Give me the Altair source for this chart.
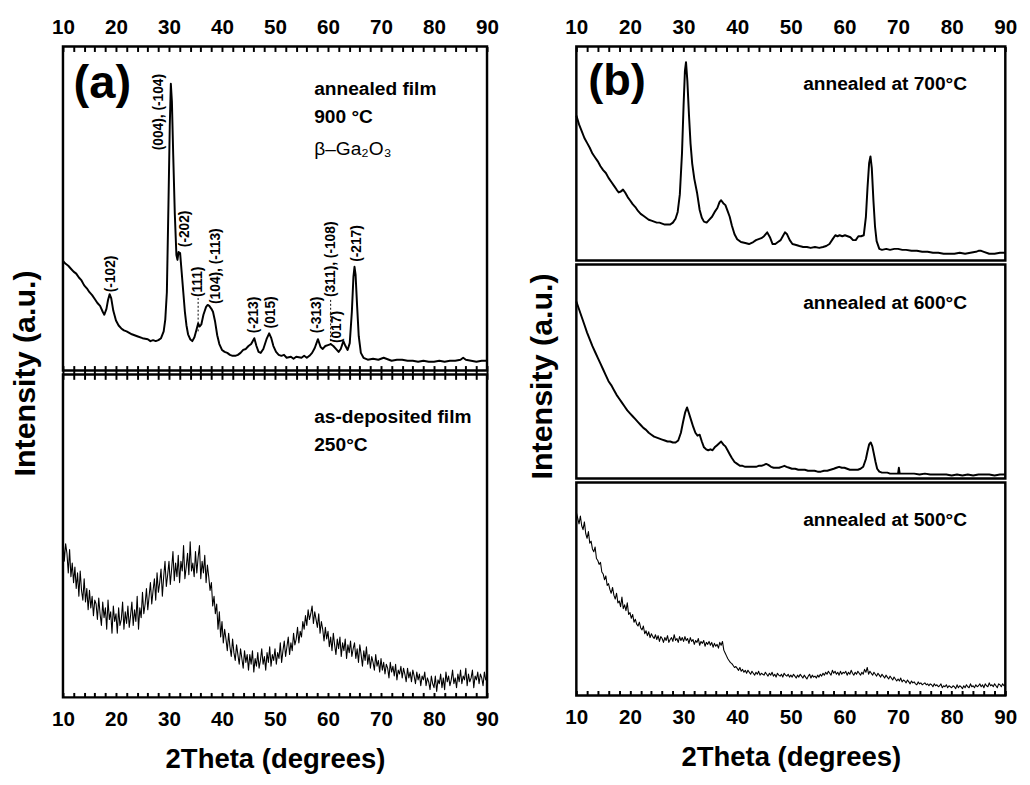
import altair as alt
import pandas as pd

FONT = "Liberation Sans"

# ---------------- tick positions ----------------
MAJOR_TICKS = [10, 20, 30, 40, 50, 60, 70, 80, 90]
ALL_TICKS = [10, 12, 14, 16, 18, 20, 22, 24, 26, 28, 30, 32, 34, 36, 38, 40, 42, 44, 46, 48,
             50, 52, 54, 56, 58, 60, 62, 64, 66, 68, 70, 72, 74, 76, 78, 80, 82, 84, 86, 88, 90]

# ---------------- (a) annealed film 900 C ----------------
A_TOP_X = [10.0, 10.5, 11.0, 11.5, 12.0, 12.5, 13.0, 13.5, 14.0, 14.5, 15.0, 15.5, 16.0, 16.5,
           17.0, 17.5, 17.8, 18.2, 18.5, 18.8, 19.1, 19.5, 20.0, 20.5, 21.0, 21.5, 22.0, 23.0,
           24.0, 25.0, 26.0, 26.5, 27.0, 27.5, 28.0, 28.5, 29.0, 29.3, 29.6, 29.9, 30.15, 30.35,
           30.55, 30.8, 31.1, 31.4, 31.6, 31.8, 32.1, 32.4, 32.7, 33.0, 33.3, 33.6, 34.0, 34.4,
           34.8, 35.2, 35.5, 35.8, 36.1, 36.5, 37.0, 37.3, 37.6, 38.0, 38.3, 38.7, 39.1, 39.5,
           40.0, 40.5, 41.0, 41.5, 42.0, 42.5, 43.0, 43.5, 44.0, 44.5, 45.0, 45.5, 46.1, 46.5,
           46.9, 47.3, 47.8, 48.4, 48.9, 49.3, 49.7, 50.2, 50.7, 51.2, 51.7, 52.2, 53.0, 53.5,
           54.0, 55.0, 55.5, 56.0, 56.5, 57.0, 57.5, 58.1, 58.6, 59.0, 59.5, 60.0, 60.5, 61.0,
           61.5, 62.0, 62.4, 62.9, 63.3, 63.7, 64.1, 64.5, 64.8, 65.0, 65.2, 65.5, 65.8, 66.2,
           66.7, 67.5, 68.5, 69.5, 70.5, 71.0, 72.0, 73.0, 74.0, 75.0, 76.0, 77.0, 78.0, 79.0,
           80.0, 81.0, 82.0, 83.0, 84.0, 85.0, 85.5, 86.0, 87.0, 88.0, 89.0, 90.0]
A_TOP_Y = [112, 109, 107, 104, 101, 99, 95, 92, 87, 84, 80, 77, 73, 69,
           66, 60, 57, 63, 72, 78, 74, 61, 51, 46, 43, 41, 40, 37,
           35, 33, 32, 30, 31, 30, 31, 33, 40, 52, 80, 170, 250, 293,
           275, 220, 160, 118, 113, 121, 120, 100, 80, 60, 46, 37, 32, 30,
           34, 42, 48, 45, 47, 57, 65, 67, 66, 63, 60, 50, 36, 27,
           21, 19, 18, 16, 15, 15, 16, 18, 21, 22, 25, 27, 33, 25,
           19, 18, 22, 32, 38, 33, 25, 19, 16, 15, 16, 13, 14, 12,
           14, 13, 15, 13, 15, 18, 23, 32, 24, 22, 25, 26, 27, 25,
           22, 19, 22, 30, 25, 21, 28, 60, 96, 106, 98, 65, 35, 18,
           13, 11, 12, 11, 13, 12, 10, 11, 11, 10, 10, 9, 10, 9,
           9, 10, 9, 10, 10, 11, 13, 11, 10, 9, 10, 10]

# peak labels of panel (a)
PEAK_TEXT = ["(-102)", "(004), (-104)", "(-202)", "(111)", "(104), (-113)", "(-213)",
             "(015)", "(-313)", "(311), (-108)", "(017)", "(-217)"]
PEAK_X = [19.0, 28.1, 33.0, 35.5, 38.9, 46.1, 49.2, 58.0, 60.5, 61.7, 65.4]
PEAK_Y = [80, 225, 126, 75, 68, 38, 43, 38, 75, 28, 111]
DASH_X = [35.5, 60.5]
DASH_Y0 = [40, 26]
DASH_Y1 = [74, 73]

A_TOP_NOTE_TEXT = ["annealed film", "900 °C"]
A_TOP_NOTE_X = [57.4, 57.4]
A_TOP_NOTE_Y = [281, 253]
A_PHASE_TEXT = ["β–Ga₂O₃"]
A_PHASE_X = [57.4]
A_PHASE_Y = [220]
A_LETTER = ["(a)"]
A_LETTER_X = [12.0]
A_LETTER_Y = [278]

# ---------------- (a) as-deposited film 250 C (0.25 degree steps) ----------------
A_BOT_Y = [166, 140, 158, 148, 128, 152, 124, 138, 118, 134, 112, 128, 104, 130, 110, 100, 122, 98, 112, 90,
           110, 92, 104, 84, 100, 96, 80, 102, 86, 74, 98, 82, 92, 70, 100, 80, 88, 66, 94, 78,
           86, 66, 92, 74, 80, 98, 70, 88, 76, 94, 72, 84, 98, 74, 90, 78, 104, 70, 92, 82,
           108, 86, 96, 112, 90, 104, 118, 96, 110, 122, 100, 128, 108, 118, 132, 104, 124, 140, 114, 126,
           140, 116, 132, 150, 120, 138, 124, 146, 118, 140, 130, 156, 122, 134, 148, 126, 160, 130, 138, 124,
           150, 128, 144, 156, 122, 140, 128, 146, 118, 136, 124, 110, 118, 94, 104, 86, 96, 70, 88, 62,
           78, 56, 70, 60, 48, 66, 52, 42, 60, 46, 38, 54, 44, 34, 50, 40, 30, 48, 36, 44,
           28, 44, 34, 48, 26, 40, 32, 46, 30, 38, 50, 34, 42, 28, 46, 36, 52, 32, 44, 38,
           50, 34, 46, 40, 56, 36, 48, 58, 42, 52, 62, 44, 56, 48, 66, 54, 60, 72, 56, 68,
           62, 78, 70, 84, 74, 90, 80, 86, 94, 76, 88, 80, 72, 86, 66, 78, 70, 58, 72, 60,
           68, 52, 62, 48, 66, 54, 44, 60, 50, 62, 42, 56, 48, 60, 40, 54, 46, 58, 42, 50,
           56, 40, 50, 36, 54, 44, 32, 48, 38, 52, 34, 44, 30, 42, 36, 28, 44, 32, 38, 26,
           40, 28, 36, 24, 34, 30, 20, 36, 26, 32, 22, 34, 18, 28, 24, 32, 20, 30, 24, 16,
           30, 20, 26, 16, 28, 22, 14, 26, 18, 24, 12, 22, 18, 26, 12, 20, 16, 8, 22, 14,
           10, 22, 6, 18, 14, 24, 10, 20, 8, 26, 16, 22, 12, 18, 28, 14, 20, 10, 24, 16,
           28, 14, 22, 18, 30, 12, 24, 16, 20, 28, 10, 22, 18, 26, 14, 24, 20, 12, 26, 18,
           22]
A_BOT_NOTE_TEXT = ["as-deposited film", "250°C"]
A_BOT_NOTE_X = [57.4, 57.4]
A_BOT_NOTE_Y = [282, 253]

# ---------------- (b) 700 C ----------------
B700_X = [10.0, 10.5, 11.0, 11.5, 12.0, 12.5, 13.0, 13.5, 14.0, 14.5, 15.0, 15.5, 16.0, 16.5,
          17.0, 17.5, 17.9, 18.3, 18.7, 19.1, 19.6, 20.0, 20.5, 21.0, 21.5, 22.0, 22.5, 23.0,
          23.5, 24.0, 24.5, 25.0, 25.5, 26.0, 26.5, 27.0, 27.5, 28.0, 28.5, 28.9, 29.3, 29.7,
          30.0, 30.25, 30.45, 30.7, 31.0, 31.3, 31.6, 32.0, 32.5, 33.0, 33.4, 33.8, 34.3, 34.8,
          35.3, 35.8, 36.3, 36.7, 37.0, 37.4, 37.8, 38.2, 38.6, 39.0, 39.5, 40.0, 40.7, 41.5,
          42.2, 43.0, 43.5, 44.0, 44.5, 45.0, 45.6, 46.1, 46.6, 47.1, 47.6, 48.1, 48.5, 48.9,
          49.3, 49.8, 50.3, 51.0, 51.6, 52.3, 53.0, 53.7, 54.5, 55.3, 56.0, 56.6, 57.2, 57.8,
          58.3, 58.7, 59.1, 59.6, 60.1, 60.6, 61.1, 61.6, 62.1, 62.6, 63.1, 63.6, 64.0, 64.3,
          64.6, 64.85, 65.1, 65.4, 65.7, 66.0, 66.5, 67.0, 67.8, 68.5, 69.3, 70.0, 70.8, 71.5,
          72.5, 73.5, 74.5, 75.5, 76.5, 77.5, 78.5, 79.5, 80.5, 81.5, 82.5, 83.5, 84.5, 85.0,
          85.5, 86.0, 87.0, 88.0, 89.0, 90.0]
B700_Y = [149, 140, 133, 126, 121, 116, 110, 106, 102, 97, 93, 90, 85, 81,
          77, 73, 70, 71, 73, 70, 65, 62, 58, 55, 51, 48, 46, 44,
          42, 41, 40, 39, 39, 38, 37, 37, 37, 39, 43, 50, 68, 110,
          160, 195, 204, 185, 150, 120, 100, 84, 70, 52, 44, 40, 39, 42,
          45, 50, 54, 60, 62, 59, 57, 51, 45, 36, 27, 22, 19, 18,
          17, 19, 21, 22, 23, 25, 29, 24, 17, 17, 19, 21, 25, 29,
          27, 21, 17, 16, 15, 14, 14, 13, 14, 13, 14, 15, 17, 22,
          26, 25, 26, 25, 26, 25, 24, 21, 21, 25, 25, 26, 45, 75,
          100, 107, 95, 62, 35, 20, 12, 11, 12, 11, 12, 12, 11, 11,
          10, 10, 9, 9, 8, 8, 7, 7, 7, 8, 7, 8, 9, 10,
          10, 9, 7, 7, 8, 8]

# ---------------- (b) 600 C ----------------
B600_X = [10.0, 10.5, 11.0, 11.5, 12.0, 12.5, 13.0, 13.5, 14.0, 14.5, 15.0, 15.5, 16.0, 16.5,
          17.0, 17.5, 18.0, 18.5, 19.0, 19.5, 20.0, 20.5, 21.0, 21.5, 22.0, 22.5, 23.0, 23.5,
          24.0, 24.5, 25.0, 25.5, 26.0, 26.5, 27.0, 27.5, 28.0, 28.5, 29.0, 29.5, 29.9, 30.3,
          30.65, 31.0, 31.4, 31.8, 32.2, 32.6, 33.0, 33.4, 33.8, 34.2, 34.6, 35.0, 35.4, 35.8,
          36.2, 36.6, 37.0, 37.4, 37.8, 38.2, 38.6, 39.0, 39.5, 40.0, 40.5, 41.0, 41.5, 42.0,
          42.5, 43.0, 43.5, 44.0, 44.5, 45.0, 45.4, 45.8, 46.3, 46.8, 47.3, 47.8, 48.3, 48.8,
          49.2, 49.7, 50.2, 50.8, 51.4, 52.0, 52.6, 53.2, 53.8, 54.4, 55.0, 55.6, 56.2, 56.8,
          57.4, 58.0, 58.5, 59.0, 59.5, 60.0, 60.5, 61.0, 61.5, 62.0, 62.5, 63.0, 63.5, 64.0,
          64.3, 64.6, 64.9, 65.2, 65.5, 65.8, 66.1, 66.5, 67.0, 67.5, 68.0, 68.5, 69.0, 69.5,
          70.0, 70.15, 70.3, 71.0, 72.0, 73.0, 74.0, 75.0, 76.0, 77.0, 78.0, 79.0, 80.0, 81.0,
          82.0, 83.0, 84.0, 85.0, 86.0, 87.0, 88.0, 89.0, 90.0]
B600_Y = [182, 174, 166, 158, 150, 143, 136, 130, 124, 118, 112, 106, 100, 96,
          91, 86, 82, 78, 74, 70, 67, 64, 61, 58, 55, 52, 50, 47,
          45, 43, 42, 41, 40, 39, 38, 38, 37, 37, 39, 47, 58, 68,
          73, 67, 60, 53, 47, 44, 45, 38, 32, 30, 29, 30, 29, 32,
          34, 36, 38, 35, 33, 29, 25, 21, 17, 15, 13, 13, 12, 12,
          12, 12, 12, 13, 13, 14, 15, 14, 12, 11, 11, 11, 12, 13,
          12, 11, 10, 10, 9, 9, 9, 8, 8, 8, 7, 7, 8, 8,
          9, 10, 11, 12, 11, 11, 10, 9, 9, 9, 9, 10, 12, 20,
          28, 35, 37, 33, 25, 17, 10, 7, 6, 6, 6, 5, 5, 5,
          5, 11, 5, 5, 5, 5, 4, 5, 4, 4, 4, 4, 3, 4,
          3, 4, 3, 4, 4, 4, 3, 4, 4]

# ---------------- (b) 500 C (0.25 degree steps) ----------------
B500_Y = [190, 184, 178, 186, 176, 172, 180, 168, 163, 170, 158, 160, 152, 149, 154, 142, 140, 136, 138, 128,
          126, 120, 124, 114, 116, 110, 106, 112, 104, 100, 106, 96, 98, 92, 102, 90, 94, 88, 96, 84,
          86, 80, 84, 76, 79, 74, 72, 76, 70, 68, 72, 64, 67, 62, 66, 60, 64, 61, 59, 63,
          58, 62, 56, 61, 59, 55, 60, 57, 62, 55, 58, 60, 56, 63, 57, 59, 55, 61, 57, 60,
          56, 61, 57, 59, 54, 60, 56, 58, 53, 57, 55, 59, 52, 56, 54, 57, 51, 55, 53, 56,
          52, 55, 50, 54, 51, 53, 49, 55, 52, 56, 47, 44, 41, 38, 36, 34, 33, 31, 29, 30,
          28, 26, 29, 25, 27, 24, 26, 23, 26, 24, 22, 25, 23, 21, 24, 22, 25, 21, 23, 22,
          21, 24, 22, 20, 23, 21, 24, 20, 22, 19, 23, 21, 20, 22, 19, 23, 21, 20, 22, 19,
          21, 19, 22, 20, 18, 21, 19, 22, 20, 18, 21, 19, 17, 20, 22, 18, 21, 19, 20, 18,
          21, 19, 22, 20, 23, 21, 24, 22, 25, 23, 21, 26, 23, 25, 22, 24, 21, 25, 22, 24,
          23, 25, 21, 24, 22, 26, 23, 21, 24, 22, 25, 23, 21, 24, 22, 27, 24, 29, 22, 25,
          23, 21, 24, 22, 20, 23, 21, 19, 22, 20, 18, 21, 19, 17, 20, 18, 16, 19, 17, 15,
          17, 15, 18, 14, 16, 15, 13, 16, 14, 12, 15, 13, 14, 12, 11, 14, 12, 13, 11, 12,
          13, 11, 12, 10, 12, 11, 9, 12, 10, 11, 9, 10, 12, 8, 10, 9, 11, 8, 10, 9,
          8, 10, 9, 7, 11, 8, 10, 9, 7, 10, 8, 11, 9, 8, 12, 9, 10, 8, 11, 9,
          10, 12, 9, 11, 8, 12, 10, 9, 13, 10, 11, 9, 12, 10, 8, 12, 11, 9, 12, 10,
          11]

GRID_QUARTER_DEG = [10 + 0.25 * i for i in range(321)]

B_NOTE_TEXT = ["annealed at 700°C", "annealed at 600°C", "annealed at 500°C"]
B_NOTE_X = [52.3, 52.3, 52.3]
B_NOTE_Y = [175, 174, 176]
B_LETTER = ["(b)"]
B_LETTER_X = [12.2]
B_LETTER_Y = [170]

Y_TITLE = "Intensity (a.u.)"

# ---------------- chart construction ----------------
XS = alt.Scale(domain=[10, 90], nice=False, zero=False)
FRAME = alt.ViewBackground(stroke="black", strokeWidth=2.5)
TICK_IN = 5          # tick length inside the frame
DIVIDER_SPAN = 14    # ticks that cross the double divider line


def tick_axis(orient, labeled=False, titled=False, size=TICK_IN):
    kw = dict(orient=orient, values=ALL_TICKS, ticks=True, tickSize=size, tickWidth=2,
              tickColor="black", domain=False, grid=False, offset=-TICK_IN,
              labels=labeled, title=None)
    if labeled:
        kw.update(format="d", labelExpr="datum.value % 10 === 0 ? datum.label : ''",
                  labelFont=FONT, labelFontSize=21, labelFontWeight="bold",
                  labelColor="black", labelFlush=False, labelOverlap=False,
                  labelPadding=9 if orient == "top" else 12)
    if titled:
        kw.update(title="2Theta (degrees)", titleFont=FONT, titleFontSize=28,
                  titleFontWeight="bold", titleColor="black", titlePadding=16)
    return alt.Axis(**kw)


def subpanel(xv, yv, href, w, h, main_axis, second_axis, stroke_w, carrier, extras):
    ys = alt.Scale(domain=[0, href], nice=False, zero=False)

    def X(ax=None):
        return alt.X("x:Q", scale=XS, axis=ax)

    def Y():
        return alt.Y("y:Q", scale=ys, axis=None)

    # with two axes (different orients) the layers resolve independently and the
    # remaining layers carry no axis; with one axis every layer repeats the same axis
    carrier_axis = second_axis if second_axis is not None else main_axis
    extra_axis = None if second_axis is not None else main_axis

    layers = [alt.Chart(pd.DataFrame({"x": xv, "y": yv})).mark_line(
        color="black", strokeWidth=stroke_w, strokeJoin="round").encode(x=X(main_axis), y=Y())]
    layers.append(carrier(lambda: X(carrier_axis), Y))
    for e in extras:
        layers.append(e(lambda: X(extra_axis), Y))
    return alt.layer(*layers).properties(width=w, height=h, view=FRAME)


def texts(xs_, ys_, labels, size, weight="bold", angle=0, align="left", baseline="alphabetic"):
    def build(X, Y):
        df = pd.DataFrame({"x": xs_, "y": ys_, "t": labels})
        return alt.Chart(df).mark_text(font=FONT, fontSize=size, fontWeight=weight, angle=angle,
                                       align=align, baseline=baseline, color="black").encode(
            x=X(), y=Y(), text="t:N")
    return build


def dashes(X, Y):
    df = pd.DataFrame({"x": DASH_X, "y": DASH_Y0, "y2": DASH_Y1})
    return alt.Chart(df).mark_rule(color="black", strokeWidth=1, strokeDash=[2, 2]).encode(
        x=X(), y=Y(), y2="y2:Q")


def ytitle(px, py):
    def build(X, Y):
        return alt.Chart(pd.DataFrame({"t": [Y_TITLE]})).mark_text(
            font=FONT, fontSize=31, fontWeight="bold", angle=270, align="center",
            baseline="middle", color="black").encode(x=alt.value(px), y=alt.value(py), text="t:N")
    return build


a_top = subpanel(A_TOP_X, A_TOP_Y, 331, 432, 330,
                 tick_axis("top", labeled=True),
                 tick_axis("bottom", size=DIVIDER_SPAN), 2,
                 texts(A_TOP_NOTE_X, A_TOP_NOTE_Y, A_TOP_NOTE_TEXT, 19.5),
                 [texts(PEAK_X, PEAK_Y, PEAK_TEXT, 14, angle=270, baseline="middle"),
                  dashes,
                  texts(A_PHASE_X, A_PHASE_Y, A_PHASE_TEXT, 19.5, weight="normal"),
                  texts(A_LETTER_X, A_LETTER_Y, A_LETTER, 48),
                  ytitle(-37, 333)])
a_bot = subpanel(GRID_QUARTER_DEG, A_BOT_Y, 332, 432, 329,
                 tick_axis("bottom", labeled=True, titled=True), None, 1.1,
                 texts(A_BOT_NOTE_X, A_BOT_NOTE_Y, A_BOT_NOTE_TEXT, 19.5), [])

b700 = subpanel(B700_X, B700_Y, 220, 437, 218, tick_axis("top", labeled=True), None, 2,
                texts(B_NOTE_X[:1], B_NOTE_Y[:1], B_NOTE_TEXT[:1], 19.5),
                [texts(B_LETTER_X, B_LETTER_Y, B_LETTER, 46)])
b600 = subpanel(B600_X, B600_Y, 220, 437, 218, None, None, 2,
                texts(B_NOTE_X[1:2], B_NOTE_Y[1:2], B_NOTE_TEXT[1:2], 19.5),
                [ytitle(-34, 114)])
b500 = subpanel(GRID_QUARTER_DEG, B500_Y, 221, 437, 217,
                tick_axis("bottom", labeled=True, titled=True), None, 1.1,
                texts(B_NOTE_X[2:], B_NOTE_Y[2:], B_NOTE_TEXT[2:], 19.5), [])

left = alt.vconcat(a_top, a_bot, spacing=4, bounds="flush")
right = alt.vconcat(b700, b600, b500, spacing=4, bounds="flush")

chart = alt.hconcat(left, right, spacing=26).properties(
    padding={"left": 1, "top": 0, "right": 4, "bottom": 4}
).configure(font=FONT, background="white")

chart.save("out.html", embed_options={"renderer": "svg", "actions": False})
